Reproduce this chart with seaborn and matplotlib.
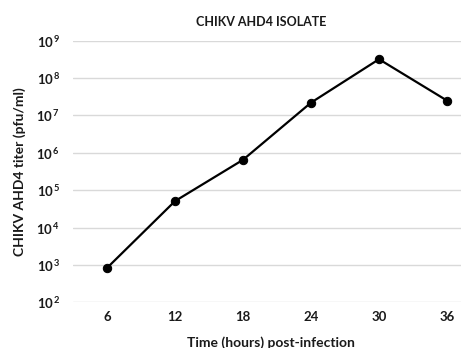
import matplotlib
matplotlib.use("Agg")
import matplotlib.pyplot as plt
import seaborn as sns
import pandas as pd

# values
hours = [6, 12, 18, 24, 30, 36]
titer = [830, 5.1e4, 6.5e5, 2.2e7, 3.2e8, 2.5e7]
decades = [2, 3, 4, 5, 6, 7, 8, 9]

sns.set_theme(style="white")
plt.rcParams["font.family"] = ["Lato", "DejaVu Sans"]
plt.rcParams["mathtext.fontset"] = "custom"
plt.rcParams["mathtext.rm"] = "Lato:bold"
plt.rcParams["mathtext.bf"] = "Lato:bold"

df = pd.DataFrame({"hours": hours, "titer": titer})

fig = plt.figure(figsize=(4.61, 3.48), dpi=100)
ax = fig.add_axes([73 / 461, 0.1313, 408 / 461, 0.7517])

ax.set_yscale("log")
ax.set_ylim(1e2, 1e9)
ax.set_xlim(3, 39)

yticks = [10.0 ** d for d in decades]
ax.set_yticks(yticks)
ax.set_yticklabels([r"$\mathbf{10^{\,%d}}$" % d for d in decades])
ax.yaxis.set_minor_locator(matplotlib.ticker.NullLocator())
ax.set_xticks(hours)
ax.set_xticklabels([str(h) for h in hours])

for y in yticks:
    ax.axhline(y, color="#d9d9d9", lw=1.0, zorder=0)

sns.lineplot(data=df, x="hours", y="titer", ax=ax, color="black", lw=1.6,
             marker="o", markersize=6, markeredgecolor="black", zorder=3)

for s in ax.spines.values():
    s.set_visible(False)
ax.tick_params(axis="both", length=0, labelsize=9.5, colors="#1a1a1a")
ax.tick_params(axis="x", pad=6)
ax.tick_params(axis="y", pad=9)
for lbl in ax.get_xticklabels() + ax.get_yticklabels():
    lbl.set_fontweight("bold")

ax.set_xlabel("Time (hours) post-infection", fontsize=10, fontweight="bold", color="#1a1a1a")
ax.set_ylabel("CHIKV AHD4 titer (pfu/ml)", fontsize=10, fontweight="bold", color="#1a1a1a")
ax.xaxis.set_label_coords(0.485, -0.153)
ax.yaxis.set_label_coords(-0.13, 0.5)
ax.xaxis.label.set_va("center")
ax.yaxis.label.set_va("center")

fig.text(261 / 461, 1 - 22 / 348, "CHIKV AHD4 ISOLATE", ha="center", va="center",
         fontsize=9, fontweight="bold", color="#1a1a1a")

fig.savefig("out.png", dpi=100)
